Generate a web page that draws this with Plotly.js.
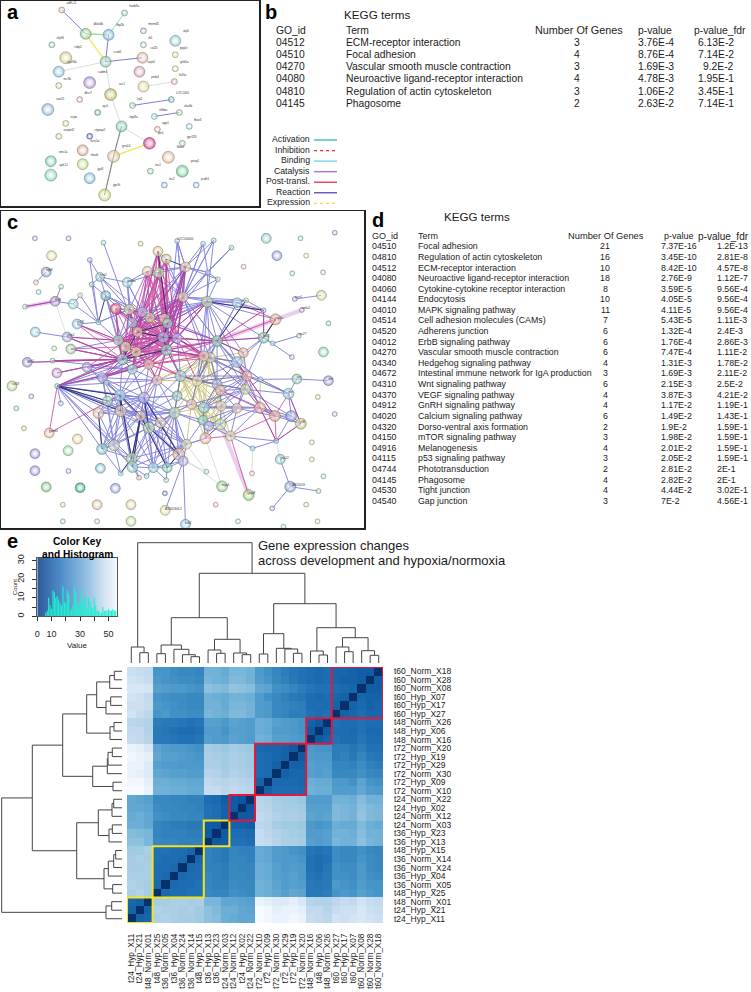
<!DOCTYPE html>
<html><head><meta charset="utf-8">
<script src="https://cdn.plot.ly/plotly-3.0.1.min.js"></script>
<style>html,body{margin:0;padding:0;background:#fff}#chart{width:751px;height:992px}</style>
</head><body><div id="chart"></div>
<script>
// ---------- TABLE b ----------
const bTitle = "KEGG terms";
const bHeaders = ["GO_id","Term","Number Of Genes","p-value","p-value_fdr"];
const bIds = ["04512","04510","04270","04080","04810","04145"];
const bTerms = ["ECM-receptor interaction","Focal adhesion","Vascular smooth muscle contraction","Neuroactive ligand-receptor interaction","Regulation of actin cytoskeleton","Phagosome"];
const bGenes = [3,4,3,4,3,2];
const bP = ["3.76E-4","8.76E-4","1.69E-3","4.78E-3","1.06E-2","2.63E-2"];
const bFdr = ["6.13E-2","7.14E-2","9.2E-2","1.95E-1","3.45E-1","7.14E-1"];
// ---------- TABLE d ----------
const dIds = ["04510","04810","04512","04080","04060","04144","04010","04514","04520","04012","04270","04340","04672","04310","04370","04912","04020","04320","04150","04916","04115","04744","04145","04530","04540"];
const dTerms = ["Focal adhesion","Regulation of actin cytoskeleton","ECM-receptor interaction","Neuroactive ligand-receptor interaction","Cytokine-cytokine receptor interaction","Endocytosis","MAPK signaling pathway","Cell adhesion molecules (CAMs)","Adherens junction","ErbB signaling pathway","Vascular smooth muscle contraction","Hedgehog signaling pathway","Intestinal immune network for IgA production","Wnt signaling pathway","VEGF signaling pathway","GnRH signaling pathway","Calcium signaling pathway","Dorso-ventral axis formation","mTOR signaling pathway","Melanogenesis","p53 signaling pathway","Phototransduction","Phagosome","Tight junction","Gap junction"];
const dGenes = [21,16,10,18,8,10,11,7,6,6,6,4,3,6,4,4,6,2,3,4,3,2,4,4,3];
const dP = ["7.37E-16","3.45E-10","8.42E-10","2.76E-9","3.59E-5","4.05E-5","4.11E-5","5.43E-5","1.32E-4","1.76E-4","7.47E-4","1.31E-3","1.69E-3","2.15E-3","3.87E-3","1.17E-2","1.49E-2","1.9E-2","1.98E-2","2.01E-2","2.05E-2","2.81E-2","2.82E-2","4.44E-2","7E-2"];
const dFdr = ["1.2E-13","2.81E-8","4.57E-8","1.12E-7","9.56E-4","9.56E-4","9.56E-4","1.11E-3","2.4E-3","2.86E-3","1.11E-2","1.78E-2","2.11E-2","2.5E-2","4.21E-2","1.19E-1","1.43E-1","1.59E-1","1.59E-1","1.59E-1","1.59E-1","2E-1","2E-1","3.02E-1","4.56E-1"];
// ---------- INTERACTION LEGEND ----------
const legendLabels = ["Activation","Inhibition","Binding","Catalysis","Post-transl.","Reaction","Expression"];
const legendColors = ["#1fb89a","#e03040","#66c8e0","#a080c8","#e02030","#6a60b8","#f0e030"];
// ---------- NETWORK a: [x, y, diameter, colour, label] ----------
const aNodes = [
[61,9,6,"#dfaf93","adfh-11"],[124,12,6,"#8fd0c8","hoxb8a"],[85,33,11,"#8fc892","dkkx4b"],[108,34,11,"#7fb4dd","fbp2b"],[143,30,6,"#9db2dd","tmem45"],
[51,44,6,"#88ccc0","zfp36"],[175,40,11,"#8ccbd0","atp5"],[143,44,6,"#96d4b0","rb1"],[175,54,6,"#d5dc8c","ppp1r"],[65,57,12,"#d3cc8e","ctdp2"],
[105,61,11,"#83c99c","ccnd1"],[142,57,11,"#dcb0a0","col20"],[175,68,6,"#d0dc8a","gnb5a"],[58,71,11,"#80c0de","cyp26b"],[139,71,11,"#d89cab","sept4"],
[89,82,12,"#a98cd6","cadm4"],[58,85,6,"#b8dc8c","tnc3b"],[143,86,11,"#dcd68f","prdx4"],[174,81,6,"#e8a8a8","fstl1a"],[110,94,12,"#b9b35c","rac1"],
[79,99,6,"#e0aca0","dhcr7"],[171,99,6,"#5fb8b0","LOC1000"],[47,109,12,"#8cb4dc","sox21"],[132,105,6,"#98dca8","lrp2"],[97,112,6,"#5fb87f","rgs5"],
[154,116,6,"#90e0d8","nfkbia"],[179,112,6,"#9cd89c","cbx4b"],[65,123,6,"#e0d48c","ncpa"],[121,126,11,"#70ccb0","itga8a"],[189,126,6,"#90d4e0","fbxo3"],
[157,129,6,"#e8b090","aqp1"],[58,136,6,"#b8dc90","serpinf2"],[89,136,6,"#4a5cb8","ctgnap2"],[149,143,12,"#d0308c","ptn1"],[182,143,6,"#a0dca0","gpr133"],
[82,150,11,"#d8a890","kcnj1a"],[113,156,12,"#dcc09c","gna14"],[50,161,11,"#70c8b0","smc1a"],[82,164,11,"#c0d880","cbarb"],[168,157,12,"#e0b8a0","fbxo5"],
[182,171,12,"#68c890","gnaq1"],[150,171,6,"#88d4a0","tas1"],[50,175,12,"#80d4b0","aplc11"],[89,178,11,"#78b8dc","gja8"],[164,185,6,"#90b0e0","tnc2"],
[196,185,6,"#90b8e0","pcdh1"],[104,195,12,"#c0d878","gpr3c"]];
const aEdgesBlue = [[0,[2]],[3,[10]],[10,[11]],[23,[21]],[25,[26]],[36,[46]],[36,[28]]];
const aEdgesCyan = [[1,[3]],[2,[3]]];
const aEdgesGray = [[10,[13]],[10,[19]],[19,[28]],[28,[33]],[17,[18]]];
const aEdgesYellow = [[28,[36]],[36,[33]],[36,[46]],[2,[10]],[2,[3]]];
// ---------- NETWORK c: [x, y, diameter, colour] (reference crop units) ----------
const cNodes = [
[530,90,5,"#80d0d8"],[640,88,5,"#80c8c8"],[608,98,5,"#80c8e0"],[693,110,5,"#80d0b0"],[472,121,10,"#dcc078"],[497,144,10,"#c0b870"],[440,181,10,"#dcbc88"],[475,185,10,"#a8d880"],[555,168,10,"#dcc088"],[622,184,5,"#88c8e0"],
[652,205,5,"#a0dca0"],[345,293,11,"#d04060"],[386,295,10,"#c0d080"],[448,320,10,"#b0c870"],[425,303,10,"#a0a0d8"],[395,335,10,"#80a8c8"],[411,363,10,"#e0b080"],[492,323,10,"#e0b890"],[501,337,10,"#70c0b0"],[548,258,10,"#d8c080"],
[620,272,11,"#a0d080"],[710,275,10,"#80c8d8"],[737,268,5,"#c0d890"],[790,298,5,"#98a0e0"],[826,325,11,"#e0a080"],[790,380,11,"#70c090"],[650,390,11,"#70c090"],[729,425,10,"#e0a880"],[710,453,11,"#88b8d8"],[630,440,10,"#c0d080"],
[610,435,10,"#e0c090"],[488,379,11,"#9098d8"],[530,382,10,"#90a0e0"],[353,388,10,"#80c8a0"],[375,407,10,"#c0d080"],[407,423,10,"#e0d080"],[365,445,11,"#70c0c0"],[498,417,11,"#70c8b0"],[445,460,10,"#e0a080"],[395,475,10,"#70c8c0"],
[305,500,10,"#9098d8"],[470,508,10,"#e0b098"],[540,495,11,"#80c8c0"],[590,510,10,"#e0d898"],[650,520,10,"#98a8e0"],[740,495,10,"#e0a080"],[735,535,10,"#c0d080"],[780,505,5,"#90c8e0"],[660,538,10,"#e0a080"],[865,548,11,"#80c8d0"],
[779,590,11,"#e0a080"],[710,592,10,"#e0b088"],[663,585,10,"#e0c890"],[610,590,11,"#70c0d0"],[573,580,10,"#e0b098"],[530,555,10,"#70c0a0"],[522,605,11,"#a0d880"],[608,628,10,"#70c8a0"],[625,645,10,"#9098d8"],[660,640,11,"#b0d888"],
[690,675,10,"#d0d088"],[615,682,11,"#e0a890"],[558,700,10,"#c8d088"],[535,730,12,"#e0a888"],[548,750,10,"#a0a0d8"],[430,560,11,"#a0a0e0"],[358,553,11,"#80c8d0"],[320,570,10,"#80d0a0"],[293,606,11,"#e0b098"],[360,600,11,"#e0b890"],
[420,615,10,"#e0b088"],[480,635,10,"#e0c8a0"],[445,650,11,"#a8d888"],[340,703,11,"#b0c8a0"],[304,714,11,"#70c0c0"],[393,742,11,"#a0d080"],[395,768,11,"#80d0c0"],[458,770,10,"#80d0c0"],[500,770,10,"#70c8a0"],[360,787,5,"#80d0d8"],
[415,800,5,"#e0a8a0"],[438,795,5,"#80c8d0"],[497,807,5,"#80d0c0"],[618,782,5,"#98dca0"],[665,826,11,"#90c880"],[755,787,5,"#e8b098"],[745,852,11,"#90c868"],[824,615,11,"#d8a070"],[873,615,11,"#8090c8"],[902,638,11,"#c0c870"],
[828,690,5,"#80c0d0"],[757,712,5,"#80c8e0"],[298,198,9,"#80c8b0"],[273,220,5,"#70c8a0"],[238,253,5,"#c8dc90"],[380,214,10,"#88c8e0"],[315,254,10,"#60a8b0"],[229,339,10,"#80c8d8"],[293,334,5,"#88d0d8"],[199,378,10,"#90a8dc"],
[210,414,10,"#90c890"],[79,454,10,"#9090cc"],[155,449,5,"#88c8d0"],[168,486,10,"#b888c8"],[259,469,10,"#9090d8"],[169,525,5,"#70c8b0"],[33,525,10,"#b0d080"],[180,577,5,"#a0a0e0"],[145,666,10,"#e0a890"],[163,271,10,"#9a8cc8"],
[217,279,10,"#88d0c8"],[72,287,5,"#98dcb8"],[105,214,5,"#e0c0a8"],[136,183,10,"#8898cc"],[181,227,5,"#98dcb8"],[103,363,10,"#88c8d8"],[267,147,5,"#a0a8e0"],[308,95,5,"#90d8a8"],[870,827,11,"#80a0d8"],[816,892,5,"#a0a0e0"],
[955,840,5,"#98dca0"],[896,374,5,"#90d8b0"],[817,397,5,"#90c8e0"],[884,264,5,"#a0a0e0"],[964,253,10,"#d0d080"],[985,509,10,"#9090d0"],[890,504,10,"#80c8a0"],[840,745,10,"#80c8c0"],[875,438,5,"#a0a8e0"],[555,940,10,"#80c8d8"],
[494,898,10,"#dcd68f"],[905,297,5,"#a8a0e0"],
[102,82,5,"#9a9adf"],[203,82,5,"#a9a0e0"],[420,98,5,"#b0dc98"],[152,134,10,"#dcd68f"],[113,243,5,"#8cd0d8"],[160,412,5,"#a8dca0"],[91,556,5,"#a0a0e0"],[46,592,5,"#80d0d0"],[69,652,5,"#b0dc98"],[230,684,10,"#e0cc98"],
[202,719,10,"#90d8a0"],[102,728,10,"#9090d8"],[102,779,10,"#9090d0"],[203,780,5,"#a8a0e0"],[136,828,10,"#70c078"],[238,830,10,"#20a070"],[344,832,10,"#9098dc"],[299,772,10,"#70b8c8"],[186,881,5,"#e0cc9a"],[289,881,10,"#dcbc98"],
[391,881,10,"#dcc898"],[493,847,5,"#6070c0"],[186,931,5,"#98dca0"],[289,931,5,"#a8dca0"],[391,931,10,"#b0d890"],[713,931,5,"#a0dca0"],[850,947,5,"#90d8b0"],[952,931,5,"#b0dc98"],[646,881,5,"#e8b0a0"],[918,881,5,"#e0c8a0"],
[970,796,5,"#90d8a8"],[935,745,5,"#d0dc98"],[935,694,5,"#d0dc98"],[1004,609,5,"#a8a8e8"],[953,558,5,"#c0dc98"],[970,423,10,"#80d0a0"],[985,337,5,"#80c8d8"],[969,184,5,"#a0dca0"],[876,187,5,"#80d8c0"],[918,134,5,"#d8dc90"],
[830,134,10,"#8898cc"],[798,82,10,"#80c8c8"],[901,82,5,"#80d8c8"],[1004,65,5,"#9898d8"],[730,167,5,"#e8b8a0"],[317,515,5,"#b0dc98"]];
const cLabels = [[0,"LOC100000"],[92,"scrt2"],[95,"wnt4a"],[97,"nr2f6"],[109,"fzd8"],[113,"itgb8"],[99,"ptgs2"],[101,"lpar1"],[106,"col18"],[108,"ctnnd1"],[129,"crb1"],[130,"BX005304.2"],[118,"CABZ0109"],[127,"gna12"],[84,"myo5"],[86,"itga8"],[24,"rap1a"],[25,"rac2"],[49,"tnn"],[89,"irf8"],[125,"ptn"],[126,"jun"],[121,"rps27"],[123,"acvr1"],[131,"epha2"]];
const cEdgesBlue = [[0,[19,8,37]],[1,[43,19]],[2,[9,19]],[3,[9,19]],[9,[10,20,19,8,18]],[10,[20]],[12,[14,15,16]],
[92,[93,95,96]],[93,[96,98]],[94,[98,110]],[96,[33,15]],[97,[33,98]],[98,[33,12]],[99,[33,36]],[100,[36,33]],[101,[36]],[102,[36,39]],[103,[36]],[104,[36,39,40,66]],[105,[40,36,39,66,67,65,68,69,70,73,71,72,75,76,74,41,38,37,31]],[107,[105]],[109,[114,110]],[110,[98]],[111,[109]],[113,[112]],[115,[99]],[116,[98,92]],[117,[15]],
[40,[36,39,66,67,69,65,70,71,72,73,41,37,31]],[66,[67,68,69,65,70,39,36,38,71,72,73,74,75,76,56,41]],[67,[69,68,73,70]],[68,[73,74,70,69]],[69,[70,72,71,65,75,73,74,76,77,56]],[65,[70,71,72,56,55,39,38,41,66,67,68,73,74,75,76,77,78,63,64,62]],[70,[71,72,75,76,63,56,73,74,77,78,64,62,55,54,41,42]],[72,[75,76,77,71,62,63,73,74,78,64,56,41]],[71,[56,62,63,64,77,78]],[73,[74,75,76,79]],[74,[79,75]],[75,[76,79,80,77]],[76,[77,80,81]],[77,[78,82,81,64]],[78,[64,82,63]],[63,[64,62,56]],[62,[61,56,57,64,75,76,77,78,65]],[56,[55,57,58,54,70,71,72,75,76,77,78,63,64,42,41]],[57,[58,59,53,61]],[58,[59,60,61]],[59,[60,61,52,51]],[61,[62]],[53,[54,52,48,44]],[54,[55,43]],[55,[42,41,65]],
[42,[37,41,43,32,31,44]],[43,[44,29,30,26]],[44,[48,45,46,29]],[45,[46,47,28,27,25,26,29,30,42,43,48,50,51,52,53,87,49]],[46,[47,50,51,26,29,43,52,53,54,87,88,49]],[47,[28,49]],[48,[51,52,46]],[50,[51,87,88,90,48,52,53,60,59,89]],[51,[52,53,57,58,59,60,61,87]],[87,[88,89]],[88,[89,90]],[49,[47,89,88]],[90,[91,60,89]],[91,[60]],[28,[27,26,25,29,30,43,44,45,47]],[27,[25,26]],[25,[23,24,26]],[23,[22,21]],[22,[21,26]],[21,[20,26]],
[20,[19,26,18,32,14,15,16,17,31,37,30,29,28,27,25,24,23,22]],[19,[18,17,32,8,14,13,7,6,5,4,15,16,31,37,30,29,26,21,22,9,10,2,3,1,0]],[26,[32,37,29,17,18,19,31,30,28,27,21,42,43,44,45]],[29,[30,37,32]],[30,[37,32]],[31,[32,37,33,16,17]],[32,[37]],[33,[34,36,16,15,11]],[34,[35,36,31]],[35,[36,37,38,39]],[36,[39,38]],[37,[38,41]],[38,[39,41]],[39,[41,65]],[11,[12,15,14]],[13,[14,15,16,17,18]],[14,[15,16,92,95,33,34,35,36]],[15,[16,31]],[16,[31,37]],[17,[18]],[8,[7,6,19,18,13,14,17,15,16,31,32,37,9,10,2,1,0]],[7,[6,14,13]],[6,[12,14]],[4,[5,14]],[5,[18,7]],[12,[92,95,96,98,33,34,35,31,17]],[95,[6,7,14,12,15]],[96,[12,14,34,36]],
[118,[119,120,127]],[121,[122]],[123,[124]],[125,[126]],[122,[25]],[126,[49,47]],[129,[64]],[130,[64]],[128,[25]]];
const cEdgesMagenta = [[4,[13,17,18,31]],[5,[17,18]],[6,[13,18]],[7,[17,16]],[11,[31,35,33]],[13,[31,32,37,17,18,33,34,35,38,39,12,4,5,6,7,19,8]],[14,[31,37]],[15,[32,37]],[16,[32,37,35,33,34,36,38,39,13,14,17,18,11,12,4,5,6,7,19,40,104]],[17,[31,37,32]],[18,[31,37,32,33,34,35,38,39,12,15,4,5,6,7,19,8,20,26,30]],[19,[31,37]],[33,[31,37,32]],[34,[37,32,31]],[35,[31,32,38,33,34,39,12,14,15,17,19,26,29,30,41,42]],[36,[37,31,32,16,13,33,34,35,38,39,12,14,15,17,18,11,4,5,6,7,19,99,100,97,101,102,103,104,105]],[39,[37,31,16,13]],[38,[37,31,32,33,34,39,41,42,26,29,30,43]],[97,[33,34]],[99,[33,36]],[100,[36,34]],[102,[36]],[103,[36]],[104,[36]],[105,[36,39]],[108,[66,105]],[111,[109]],[40,[36,38]],[26,[24,27,25,23]],[25,[23,24]],[28,[87,50]],[50,[90]],[87,[90]],[21,[24]],[23,[26]],[89,[90]],
[31,[33,34,35,36,37,38,39,13,14,15,16,17,18,12,11,4,6,7,19,26,29,30,20,8,5]],[37,[33,34,35,36,38,39,13,14,15,16,17,18,12,11,4,6,7,19,26,29,30,20,8,41,42,65,40,104]],[32,[33,34,35,36,38,13,14,15,16,17,18,12,4,6,7,19,26,29,30,20,8,5,43]],[60,[86,87,61]],[59,[61]],[48,[87]],[49,[87,89]]];
const cEdgesGold = [[30,[42,43,29,37,32,38,54,53,52,48,44,55,41]],[29,[42,44,43,54,53,52,48,55,41,46,45,28,27]],[43,[54,53,55,52,48,46,45,57,58,59,41,56]],[42,[54,55,53,56,52,48,44,57,58]],[44,[53,57]],[48,[57,58,59]],[45,[49]],[46,[50]],[50,[87]],[27,[46]],[47,[50]],[28,[46,44]],[52,[57,58,60,61]],[53,[55,56,57,58,59,60,61]],[54,[56,57,58,59,61,62]]];
const cEdgesDark = [[36,[37,31,16]],[105,[66,67,69]],[66,[69,70,75]],[70,[75,76,78]],[65,[72,63]],[31,[37,32,18]],[16,[31,18]],[63,[72,78]],[75,[79]],[20,[23]],[22,[26]],[4,[18]],[5,[8]],[96,[98]],[68,[74]],[25,[24]]];
const cEdgesGray = [[84,[61,63]],[83,[64,62]],[85,[91]],[127,[90]],[92,[12]],[109,[99]]];
const cEdgesWide = [[24,[26]],[131,[26]],[86,[59]],[8,[18]],[111,[109]]];
// ---------- COLOUR KEY ----------
const keyLevels = [0,1,2,3,4,5,6,7,8,9,10,11,12,13,14,15,16,17,18,19,20,21,22,23,24,25,26,27,28,29,30,31,32,33,34,35,36,37,38,39,40,41,42,43,44,45,46,47,48,49,50,51,52,53,54,55];
const histCounts = [0,0,0,0,0,0,2,3,10,6,4,14,13,10,11,9,7,6,16,8,7,14,12,3,4,6,16,13,7,5,8,14,7,10,11,4,10,8,5,4,10,6,3,3,2,2,5,3,3,3,4,3,3,4,3,3];
// ---------- HEATMAP ----------
const sampleLabels = ["t24_Hyp_X11","t24_Hyp_X21","t48_Norm_X01","t48_Hyp_X25","t36_Norm_X05","t36_Hyp_X04","t36_Norm_X24","t36_Norm_X14","t48_Hyp_X15","t36_Hyp_X13","t36_Hyp_X23","t24_Norm_X03","t24_Norm_X12","t24_Hyp_X02","t24_Norm_X22","t72_Norm_X10","t72_Hyp_X09","t72_Norm_X30","t72_Hyp_X29","t72_Hyp_X19","t72_Norm_X20","t48_Norm_X16","t48_Hyp_X06","t48_Norm_X26","t60_Hyp_X27","t60_Hyp_X17","t60_Hyp_X07","t60_Norm_X08","t60_Norm_X28","t60_Norm_X18"];
const distance = [
[0,12,13,42,43,42,41,41,40,37,36,32,31,30,30,55,54,53,53,54,53,47,46,45,49,48,49,50,49,48],
[12,0,12,43,42,42,41,42,40,37,35,32,32,30,29,55,54,52,53,53,52,46,46,44,47,48,48,50,48,47],
[13,12,0,41,41,42,42,41,42,34,34,30,30,29,28,53,52,51,51,52,50,44,43,43,45,47,46,49,47,46],
[42,43,41,0,14,15,15,16,16,22,21,21,24,23,22,33,32,30,28,30,29,18,18,19,25,26,25,28,26,25],
[43,42,41,14,0,14,15,15,16,21,20,20,23,22,22,33,32,29,27,28,27,18,17,18,26,25,24,27,25,25],
[42,42,42,15,14,0,14,15,15,21,20,19,22,22,21,32,31,28,27,28,26,17,16,18,24,24,23,26,24,23],
[41,41,42,15,15,14,0,14,15,20,20,19,22,21,21,32,31,28,26,27,26,16,15,17,24,23,23,26,23,22],
[41,42,41,16,15,15,14,0,13,20,19,18,21,21,20,31,30,27,26,26,25,16,15,16,23,22,22,25,23,22],
[40,40,42,16,16,15,15,13,0,20,19,18,21,20,20,31,30,27,26,25,24,17,16,17,23,22,22,24,22,21],
[37,37,34,22,21,21,20,20,20,0,10,11,16,16,15,47,46,44,42,42,41,28,27,28,34,33,33,37,34,33],
[36,35,34,21,20,20,20,19,19,10,0,10,15,15,14,47,45,43,42,41,40,27,27,28,33,33,32,36,33,33],
[32,32,30,21,20,19,19,18,18,11,10,0,12,12,11,45,44,41,40,40,39,26,25,26,32,31,31,35,32,31],
[31,32,30,24,23,22,22,21,21,16,15,12,0,10,10,46,45,43,42,42,41,29,28,29,35,34,33,38,35,34],
[30,30,29,23,22,22,21,21,20,16,15,12,10,0,9,45,44,42,41,41,40,28,28,28,35,34,33,37,35,34],
[30,29,28,22,22,21,21,20,20,15,14,11,10,9,0,44,43,41,40,40,39,27,27,27,33,33,32,36,33,33],
[55,55,53,33,33,32,32,31,31,47,47,45,46,45,44,0,12,15,15,15,14,33,32,32,27,27,27,30,27,26],
[54,54,52,32,32,31,31,30,30,46,45,44,45,44,43,12,0,14,14,14,13,32,31,31,26,26,24,29,25,24],
[53,52,51,30,29,28,28,27,27,44,43,41,43,42,41,15,14,0,12,13,13,28,27,28,22,22,22,24,22,21],
[53,53,51,28,27,27,26,26,26,42,42,40,42,41,40,15,14,12,0,12,12,28,27,27,21,21,20,23,20,19],
[54,53,52,30,28,28,27,26,25,42,41,40,42,41,40,15,14,13,12,0,10,27,26,26,19,20,18,21,18,17],
[53,52,50,29,27,26,26,25,24,41,40,39,41,40,39,14,13,13,12,10,0,26,25,25,19,19,17,19,16,16],
[47,46,44,18,18,17,16,16,17,28,27,26,29,28,27,33,32,28,28,27,26,0,10,12,16,15,15,17,15,15],
[46,46,43,18,17,16,15,15,16,27,27,25,28,28,27,32,31,27,27,26,25,10,0,10,15,15,14,16,14,14],
[45,44,43,19,18,18,17,16,17,28,28,26,29,28,27,32,31,28,27,26,25,12,10,0,16,15,15,16,15,15],
[49,47,45,25,26,24,24,23,23,34,33,32,35,35,33,27,26,22,21,19,19,16,15,16,0,12,13,15,13,13],
[48,48,47,26,25,24,23,22,22,33,33,31,34,34,33,27,26,22,21,20,19,15,15,15,12,0,12,14,12,13],
[49,48,46,25,24,23,23,22,22,33,32,31,33,33,32,27,24,22,20,18,17,15,14,15,13,12,0,13,12,12],
[50,50,49,28,27,26,26,25,24,37,36,35,38,37,36,30,29,24,23,21,19,17,16,16,15,14,13,0,11,11],
[49,48,47,26,25,24,23,23,22,34,33,32,35,35,33,27,25,22,20,18,16,15,14,15,13,12,12,11,0,11],
[48,47,46,25,25,23,22,22,21,33,33,31,34,34,33,26,24,21,19,17,16,15,14,15,13,13,12,11,11,0]];
const yellowBlocks = [[0,2],[3,8],[9,11]];
const redBlocks = [[12,14],[15,20],[21,23],[24,29]];
// dendrogram merges: [childA, childB, height]; a child >=100 refers to merge (child-100)
const merges = [[1,2,10.3],[0,100,16],[3,4,9.3],[7,8,6.3],[6,103,8.3],[5,104,13.7],[102,105,18],[10,11,9.7],[9,107,13],[13,14,8.3],[12,109,10],[108,110,23.7],[106,111,45.3],[15,16,9],[19,20,9.7],[18,114,14],[17,115,14.7],[113,116,29.3],[22,23,8],[21,118,12],[25,26,11.3],[24,120,16],[28,29,7.7],[27,122,12.3],[121,123,25.3],[119,124,35.3],[117,125,59.3],[112,126,89.7],[101,127,120.3]];

// ---------- helpers ----------
const W = 751, H = 992;
const dx = (a,b)=>[a/W,b/W];
const dy = (a,b)=>[1-b/H,1-a/H];
const ann = [];
function put(x,y,text,o={}){ann.push({xref:'paper',yref:'paper',x:x/W,y:1-y/H,text:String(text),showarrow:false,
  xanchor:o.anchor||'left',yanchor:'middle',textangle:o.angle||0,borderpad:0,
  font:{family:'Liberation Sans, Arial, sans-serif',size:o.size||8.8,color:o.color||'#1a1a1a'}});}
function edges(nodes,adj){const x=[],y=[];adj.forEach(([a,list])=>list.forEach(b=>{x.push(nodes[a][0],nodes[b][0],null);y.push(nodes[a][1],nodes[b][1],null);}));return {x,y};}
function lineTrace(nodes,adj,color,width,ax,ay,opacity){const e=edges(nodes,adj);return {type:'scatter',mode:'lines',x:e.x,y:e.y,xaxis:ax,yaxis:ay,hoverinfo:'skip',opacity:opacity,line:{color,width}};}
function nodeTrace(nodes,ax,ay,labels){const t={type:'scatter',mode:labels?'markers+text':'markers',x:nodes.map(n=>n[0]),y:nodes.map(n=>n[1]),xaxis:ax,yaxis:ay,
  marker:{size:nodes.map(n=>n[2]),color:nodes.map(n=>n[3]),opacity:0.92,line:{width:0.6,color:'rgba(70,70,70,0.55)'},gradient:{type:'radial',color:'rgba(255,255,255,0.3)'}}};
  if(labels){t.text=nodes.map(n=>n[4]);t.textposition='top right';t.textfont={size:3,color:'#333',family:'Liberation Sans'};}return t;}
function dendro(swap,ax,ay){const pos={},x=[],y=[];const seg=(p,h,q,k)=>{if(swap){x.push(h,k,null);y.push(p,q,null);}else{x.push(p,q,null);y.push(h,k,null);}};
  const loc=c=>c>=100?pos[c]:[c,0];
  merges.forEach((m,i)=>{const [pa,ha]=loc(m[0]),[pb,hb]=loc(m[1]),h=m[2];seg(pa,ha,pa,h);seg(pb,hb,pb,h);seg(pa,h,pb,h);pos[100+i]=[(pa+pb)/2,h];});
  return {type:'scatter',mode:'lines',x,y,xaxis:ax,yaxis:ay,hoverinfo:'skip',line:{color:'#444',width:1}};}

const blues = [[0,'#08306b'],[0.14,'#08519c'],[0.29,'#2171b5'],[0.44,'#4292c6'],[0.58,'#6baed6'],[0.72,'#9ecae1'],[0.85,'#c6dbef'],[0.93,'#deebf7'],[1,'#f7fbff']];
const keyScale = [[0,'#2f5b9e'],[0.3,'#4f8fc8'],[0.6,'#8fbde0'],[0.85,'#d4e4f3'],[1,'#f4f8fc']];
const hide = {visible:false,fixedrange:true};
const boxAxis = {showline:true,mirror:true,linecolor:'#222',linewidth:1.5,showgrid:false,zeroline:false,showticklabels:false,ticks:'',fixedrange:true};

const traces = [
  lineTrace(aNodes,aEdgesGray,'#d4d4d4',0.8,'x','y',1),
  lineTrace(aNodes,aEdgesYellow,'#f0e64a',1.4,'x','y',0.9),
  lineTrace(aNodes,aEdgesCyan,'#70d8c8',0.9,'x','y',1),
  lineTrace(aNodes,aEdgesBlue,'#5a5ae0',0.8,'x','y',1),
  nodeTrace(aNodes,'x','y',true),
  lineTrace(cNodes,cEdgesWide,'#d8a8e0',4,'x2','y2',0.55),
  lineTrace(cNodes,cEdgesGray,'#d0d0d0',0.7,'x2','y2',1),
  lineTrace(cNodes,cEdgesGold,'#c8c070',1,'x2','y2',0.85),
  lineTrace(cNodes,cEdgesBlue,'#5a58d0',1,'x2','y2',0.7),
  lineTrace(cNodes,cEdgesMagenta,'#c8288c',1,'x2','y2',0.7),
  lineTrace(cNodes,cEdgesDark,'#202060',1,'x2','y2',0.85),
  nodeTrace(cNodes,'x2','y2',false),
  {type:'scatter',mode:'text',x:cLabels.map(l=>cNodes[l[0]][0]),y:cLabels.map(l=>cNodes[l[0]][1]),text:cLabels.map(l=>l[1]),textposition:'top right',textfont:{size:3,color:'#333',family:'Liberation Sans'},xaxis:'x2',yaxis:'y2',hoverinfo:'skip'},
  {type:'heatmap',z:distance,x:keyLevels.slice(0,30),y:keyLevels.slice(0,30),xaxis:'x3',yaxis:'y3',zmin:0,zmax:55,colorscale:blues,showscale:false,hoverinfo:'skip'},
  dendro(false,'x4','y4'),
  dendro(true,'x5','y5'),
  {type:'heatmap',z:[keyLevels],x:keyLevels.concat([56]),y:[0,31.5],xaxis:'x6',yaxis:'y6',zmin:0,zmax:55,colorscale:keyScale,showscale:false,hoverinfo:'skip'},
  {type:'bar',x:keyLevels,y:histCounts,width:0.8,xaxis:'x6',yaxis:'y6',marker:{color:'#1ff0d0',line:{width:0}},hoverinfo:'skip'}
];

// tables
put(343,14,bTitle,{size:11.7});
[275,345,534,637,693].forEach((x,i)=>put(x,30,bHeaders[i],{size:i==2?10.8:10.3,color:'#222'}));
bIds.forEach((id,i)=>{const y=42+i*12.33;put(275,y,id,{size:10.3});put(345,y,bTerms[i],{size:10.3});put(577,y,bGenes[i],{size:10.3,anchor:'center'});put(637,y,bP[i],{size:10.3});put(735,y,bFdr[i],{size:10.3,anchor:'right'});});
put(443,216,bTitle,{size:11.6});
[371,417,567,663,697].forEach((x,i)=>put(x,236,bHeaders[i],{size:i==2?9.3:i==4?10:9}));
dIds.forEach((id,i)=>{const y=246.3+i*10.6;put(371,y,id);put(417,y,dTerms[i]);put(605,y,dGenes[i],{anchor:'center'});put(660,y,dP[i]);put(716,y,dFdr[i]);});
// interaction legend
legendLabels.forEach((l,i)=>put(311,139+i*10.55,l,{size:8.7,anchor:'right'}));
// panel letters
[['a',6,12],['b',264,12],['c',6,222],['d',371,220],['e',6,541]].forEach(p=>{ann.push({xref:'paper',yref:'paper',x:p[1]/W,y:1-p[2]/H,text:'<b>'+p[0]+'</b>',showarrow:false,xanchor:'left',yanchor:'middle',borderpad:0,font:{family:'Liberation Sans, Arial',size:20,color:'#000'}});});
// key and title text
put(77,541.7,'<b>Color Key</b>',{size:10.2,anchor:'center',color:'#000'});
put(77,554,'<b>and Histogram</b>',{size:10.2,anchor:'center',color:'#000'});
put(77,645,'Value',{size:8,anchor:'center'});
put(15,587,'Count',{size:6,anchor:'center',angle:-90});
put(257,545,'Gene expression changes',{size:13});
put(257,560,'across development and hypoxia/normoxia',{size:13});

const shapes = [];
legendColors.forEach((c,i)=>{const y=1-(140+i*10.55)/H;shapes.push({type:'line',xref:'paper',yref:'paper',x0:314/W,x1:337/W,y0:y,y1:y,line:{color:c,width:i==5||i==3?1.5:1.2,dash:(i==1||i==6)?'dot':'solid'}});});
yellowBlocks.forEach(b=>shapes.push({type:'rect',xref:'x3',yref:'y3',x0:b[0]-0.5,x1:b[1]+0.5,y0:b[0]-0.5,y1:b[1]+0.5,line:{color:'#f5e41e',width:2}}));
redBlocks.forEach(b=>shapes.push({type:'rect',xref:'x3',yref:'y3',x0:b[0]-0.5,x1:b[1]+0.5,y0:b[0]-0.5,y1:b[1]+0.5,line:{color:'#e4183c',width:2}}));

const tickFont = {family:'Liberation Sans, Arial, sans-serif',size:8.5,color:'#1a1a1a'};
const layout = {
  width:W,height:H,margin:{l:0,r:0,t:0,b:0,pad:0},paper_bgcolor:'#fff',plot_bgcolor:'rgba(0,0,0,0)',showlegend:false,barmode:'overlay',
  xaxis:Object.assign({},boxAxis,{domain:dx(1,259),range:[0,259],anchor:'y'}),
  yaxis:Object.assign({},boxAxis,{domain:dy(1,206),range:[206,0],anchor:'x'}),
  xaxis2:Object.assign({},boxAxis,{domain:dx(1,364),range:[0,1092],anchor:'y2'}),
  yaxis2:Object.assign({},boxAxis,{domain:dy(211,528),range:[951,0],anchor:'x2'}),
  xaxis3:{domain:dx(127,383),range:[-0.5,29.5],anchor:'y3',tickmode:'array',tickvals:keyLevels.slice(0,30),ticktext:sampleLabels,tickangle:-90,tickfont:Object.assign({},tickFont,{size:8.2}),ticks:'',ticklabelstandoff:8,showgrid:false,zeroline:false,fixedrange:true},
  yaxis3:{domain:dy(667,923),range:[-0.5,29.5],anchor:'x3',side:'right',tickmode:'array',tickvals:keyLevels.slice(0,30),ticktext:sampleLabels,tickfont:tickFont,ticks:'',ticklabelstandoff:10,showgrid:false,zeroline:false,fixedrange:true},
  xaxis4:Object.assign({},hide,{domain:dx(127,383),range:[-0.5,29.5],anchor:'y4'}),
  yaxis4:Object.assign({},hide,{domain:dy(530,663),range:[0,133],anchor:'x4'}),
  xaxis5:Object.assign({},hide,{domain:dx(0,122),range:[122,0],anchor:'y5'}),
  yaxis5:Object.assign({},hide,{domain:dy(667,923),range:[-0.5,29.5],anchor:'x5'}),
  xaxis6:{domain:dx(37.3,116.7),range:[0,55.7],anchor:'y6',tickmode:'array',tickvals:[0,10,20,30,40,50],ticktext:['0','10','','30','','50'],ticks:'outside',ticklen:4,tickcolor:'#334',showline:true,mirror:true,linecolor:'#555',showgrid:false,zeroline:false,tickfont:{family:'Liberation Sans',size:9,color:'#222'},ticklabelstandoff:5,fixedrange:true},
  yaxis6:{domain:dy(557.7,616.4),range:[0,31.5],anchor:'x6',tickmode:'array',tickvals:[0,5,10,15,20,25,30],ticktext:['0','','10','','20','','30'],tickangle:-90,ticks:'outside',ticklen:4,tickcolor:'#333',showline:true,mirror:true,linecolor:'#555',showgrid:false,zeroline:false,tickfont:{family:'Liberation Sans',size:9,color:'#222'},ticklabelstandoff:5,fixedrange:true},
  annotations:ann,shapes:shapes
};
Plotly.newPlot('chart',traces,layout,{displayModeBar:false,staticPlot:true});
</script></body></html>
